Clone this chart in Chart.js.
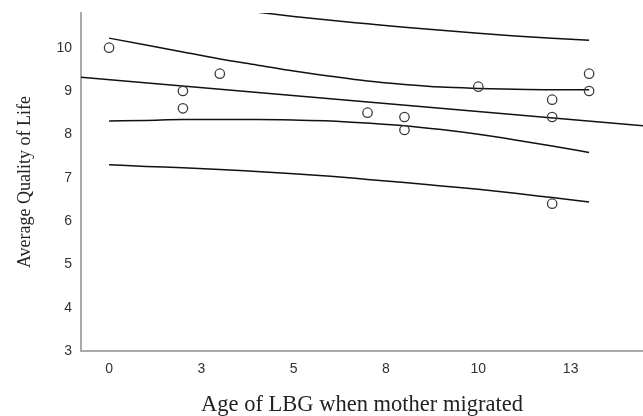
<!DOCTYPE html>
<html lang="en">
<head>
    <meta charset="UTF-8">
    <title>Average Quality of Life by Age of LBG when mother migrated</title>
    <script src="https://cdn.jsdelivr.net/npm/chart.js"></script>
    <style>
        body {
            margin: 0;
            padding: 0;
            background-color: #ffffff;
        }
        .chart-container {
            width: 643px;
            height: 416px;
            position: relative;
        }
    </style>
</head>
<body>
    <div class="chart-container">
        <canvas id="myChart"></canvas>
    </div>

    <script>
        // Observed cases
        const ageYears = [0, 2, 2, 3, 7, 8, 8, 10, 12, 12, 12, 13, 13];
        const qualityScores = [10.0, 9.0, 8.6, 9.4, 8.5, 8.4, 8.1, 9.1, 8.8, 8.4, 6.4, 9.4, 9.0];

        // Fit line, read at the two ends of the plot
        const fitLineAges = [-0.76, 14.46];
        const fitLineValues = [9.32, 8.20];

        // Confidence bands
        const bandAges = [0, 1, 2, 3, 4, 5, 6, 7, 8, 9, 10, 11, 12, 13];
        const meanUpper = [10.22, 10.06, 9.90, 9.74, 9.60, 9.46, 9.34, 9.23, 9.15, 9.09, 9.06, 9.04, 9.03, 9.03];
        const meanLower = [8.31, 8.32, 8.34, 8.34, 8.34, 8.33, 8.31, 8.26, 8.20, 8.11, 8.00, 7.87, 7.73, 7.58];
        const indivUpper = [11.22, 11.11, 11.0, 10.91, 10.82, 10.72, 10.63, 10.55, 10.47, 10.40, 10.33, 10.27, 10.22, 10.17];
        const indivLower = [7.30, 7.26, 7.23, 7.19, 7.14, 7.09, 7.03, 6.96, 6.89, 6.81, 6.73, 6.64, 6.54, 6.44];

        // Axis ticks
        const xTickValues = [0, 2.5, 5, 7.5, 10, 12.5];
        const yTickValues = [3, 4, 5, 6, 7, 8, 9, 10];

        const toPoints = (xs, ys) => xs.map((x, i) => ({ x: x, y: ys[i] }));

        const curveStyle = {
            type: 'line',
            borderColor: '#111111',
            borderWidth: 1.5,
            pointRadius: 0,
            fill: false,
            clip: 0,
            cubicInterpolationMode: 'monotone'
        };

        const ctx = document.getElementById('myChart').getContext('2d');

        const myChart = new Chart(ctx, {
            type: 'scatter',
            data: {
                datasets: [
                    {
                        label: 'Observed',
                        data: toPoints(ageYears, qualityScores),
                        pointRadius: 4.7,
                        pointBorderWidth: 1.3,
                        borderColor: '#3a3a3a',
                        backgroundColor: 'rgba(0,0,0,0)',
                        order: 0
                    },
                    Object.assign({ label: 'Fit', data: toPoints(fitLineAges, fitLineValues), order: 1 }, curveStyle),
                    Object.assign({ label: 'Mean upper', data: toPoints(bandAges, meanUpper), order: 1 }, curveStyle),
                    Object.assign({ label: 'Mean lower', data: toPoints(bandAges, meanLower), order: 1 }, curveStyle),
                    Object.assign({ label: 'Individual upper', data: toPoints(bandAges, indivUpper), order: 1 }, curveStyle),
                    Object.assign({ label: 'Individual lower', data: toPoints(bandAges, indivLower), order: 1 }, curveStyle)
                ]
            },
            options: {
                responsive: true,
                maintainAspectRatio: false,
                animation: false,
                layout: {
                    autoPadding: false,
                    padding: { top: 13, right: 0, bottom: 0, left: 0 }
                },
                scales: {
                    x: {
                        type: 'linear',
                        min: -0.76,
                        max: 14.46,
                        afterBuildTicks: (scale) => {
                            scale.ticks = xTickValues.map(v => ({ value: v }));
                        },
                        afterFit: (scale) => {
                            scale.height = 65;
                            scale.paddingLeft = 0;
                            scale.paddingRight = 0;
                        },
                        ticks: {
                            padding: 10,
                            color: '#333',
                            font: { family: 'Liberation Sans', size: 14 },
                            callback: (value) => Math.round(value)
                        },
                        grid: { display: false, drawTicks: false },
                        border: { color: '#aaaaaa', width: 2 },
                        title: {
                            display: true,
                            text: 'Age of LBG when mother migrated',
                            color: '#222',
                            font: { family: 'Liberation Serif', size: 22.5, lineHeight: 1 },
                            padding: { top: 0, bottom: 0 }
                        }
                    },
                    y: {
                        type: 'linear',
                        min: 3,
                        max: 10.8,
                        afterBuildTicks: (scale) => {
                            scale.ticks = yTickValues.map(v => ({ value: v }));
                        },
                        afterFit: (scale) => {
                            scale.width = 81;
                            scale.paddingTop = 0;
                            scale.paddingBottom = 0;
                        },
                        ticks: {
                            padding: 9,
                            color: '#333',
                            font: { family: 'Liberation Sans', size: 14 }
                        },
                        grid: { display: false, drawTicks: false },
                        border: { color: '#aaaaaa', width: 2 },
                        title: {
                            display: true,
                            text: 'Average Quality of Life',
                            color: '#222',
                            font: { family: 'Liberation Serif', size: 18, lineHeight: 1 },
                            padding: { top: 16, bottom: 0 }
                        }
                    }
                },
                plugins: {
                    legend: { display: false },
                    tooltip: { enabled: false }
                }
            }
        });
    </script>
</body>
</html>
